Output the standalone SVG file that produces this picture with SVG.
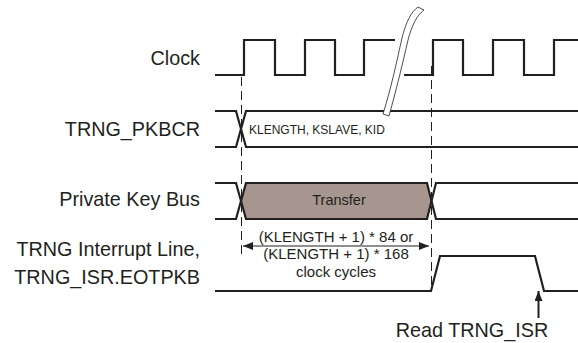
<svg xmlns="http://www.w3.org/2000/svg" width="578" height="343" viewBox="0 0 578 343">
<defs>
<style>
.sig{fill:none;stroke:#231f20;stroke-width:2.2;stroke-linejoin:miter}
.dash{fill:none;stroke:#231f20;stroke-width:1;stroke-dasharray:9,5}
.lbl{font-family:"Liberation Sans",Arial,sans-serif;font-size:19.8px;fill:#231f20}
.sm{font-family:"Liberation Sans",Arial,sans-serif;font-size:12px;fill:#231f20}
.mid{font-family:"Liberation Sans",Arial,sans-serif;font-size:15px;fill:#231f20;text-anchor:middle}
.brk{fill:#fff;stroke:#231f20;stroke-width:0.8}
</style>
<marker id="ah" viewBox="0 0 10 8" refX="10" refY="4" markerWidth="10" markerHeight="8" markerUnits="userSpaceOnUse" orient="auto-start-reverse">
<path d="M0,0 L10,4 L0,8 Z" fill="#231f20"/>
</marker>
</defs>
<g id="labels">
<text class="lbl" x="200" y="65" text-anchor="end">Clock</text>
<text class="lbl" x="200" y="136" text-anchor="end">TRNG_PKBCR</text>
<text class="lbl" x="200" y="206" text-anchor="end">Private Key Bus</text>
<text class="lbl" x="200" y="256" text-anchor="end">TRNG Interrupt Line,</text>
<text class="lbl" x="200" y="284" text-anchor="end">TRNG_ISR.EOTPKB</text>
</g>
<g id="connectors">
<line class="dash" x1="241.5" y1="77" x2="241.5" y2="258"/>
<line class="dash" x1="431.5" y1="66" x2="431.5" y2="286"/>
<line x1="243" y1="246" x2="429" y2="246" stroke="#231f20" stroke-width="1.2" marker-start="url(#ah)" marker-end="url(#ah)"/>
<line x1="538.5" y1="318" x2="538.5" y2="291" stroke="#231f20" stroke-width="2" marker-end="url(#ah)"/>
</g>
<g id="clock">
<path class="sig" d="M215,75 H244 V40 H275 V75 H305 V40 H335 V75 H364 V40 H395"/>
<path class="sig" d="M404,75 H433 V40 H463 V75 H493 V40 H524 V75 H554 V40 H578"/>
</g>
<g id="pkbcr">
<path class="sig" d="M215,111 H236 L246,147 H578"/>
<path class="sig" d="M215,147 H236 L246,111 H578"/>
<text class="sm" x="249" y="134">KLENGTH, KSLAVE, KID</text>
</g>
<g id="break">
<path class="brk" d="M383,114 C392,85 397,60 402,38 C406,22 411,12 418,7 L424,10 C417,15 412,25 408,40 C403,62 397,87 389,116 Z"/>
</g>
<g id="pkbus">
<path d="M246,183 H427 L431.5,201 L427,219 H246 L241.5,201 Z" fill="#a7968f"/>
<path class="sig" d="M215,183 H236 L246,219 H427 L436,183 H578"/>
<path class="sig" d="M215,219 H236 L246,183 H427 L436,219 H578"/>
<text class="sm" x="339" y="205" text-anchor="middle" style="font-size:14.5px">Transfer</text>
</g>
<g id="irq">
<path class="sig" d="M215,291 H431 L440,256 H535 L544,291 H578"/>
</g>
<g id="dimension">
<text class="mid" x="336" y="242">(KLENGTH + 1) * 84 or</text>
<text class="mid" x="336" y="259">(KLENGTH + 1) * 168</text>
<text class="mid" x="336" y="277">clock cycles</text>
</g>
<g id="read">
<text class="lbl" x="472" y="337" text-anchor="middle">Read TRNG_ISR</text>
</g>
</svg>
